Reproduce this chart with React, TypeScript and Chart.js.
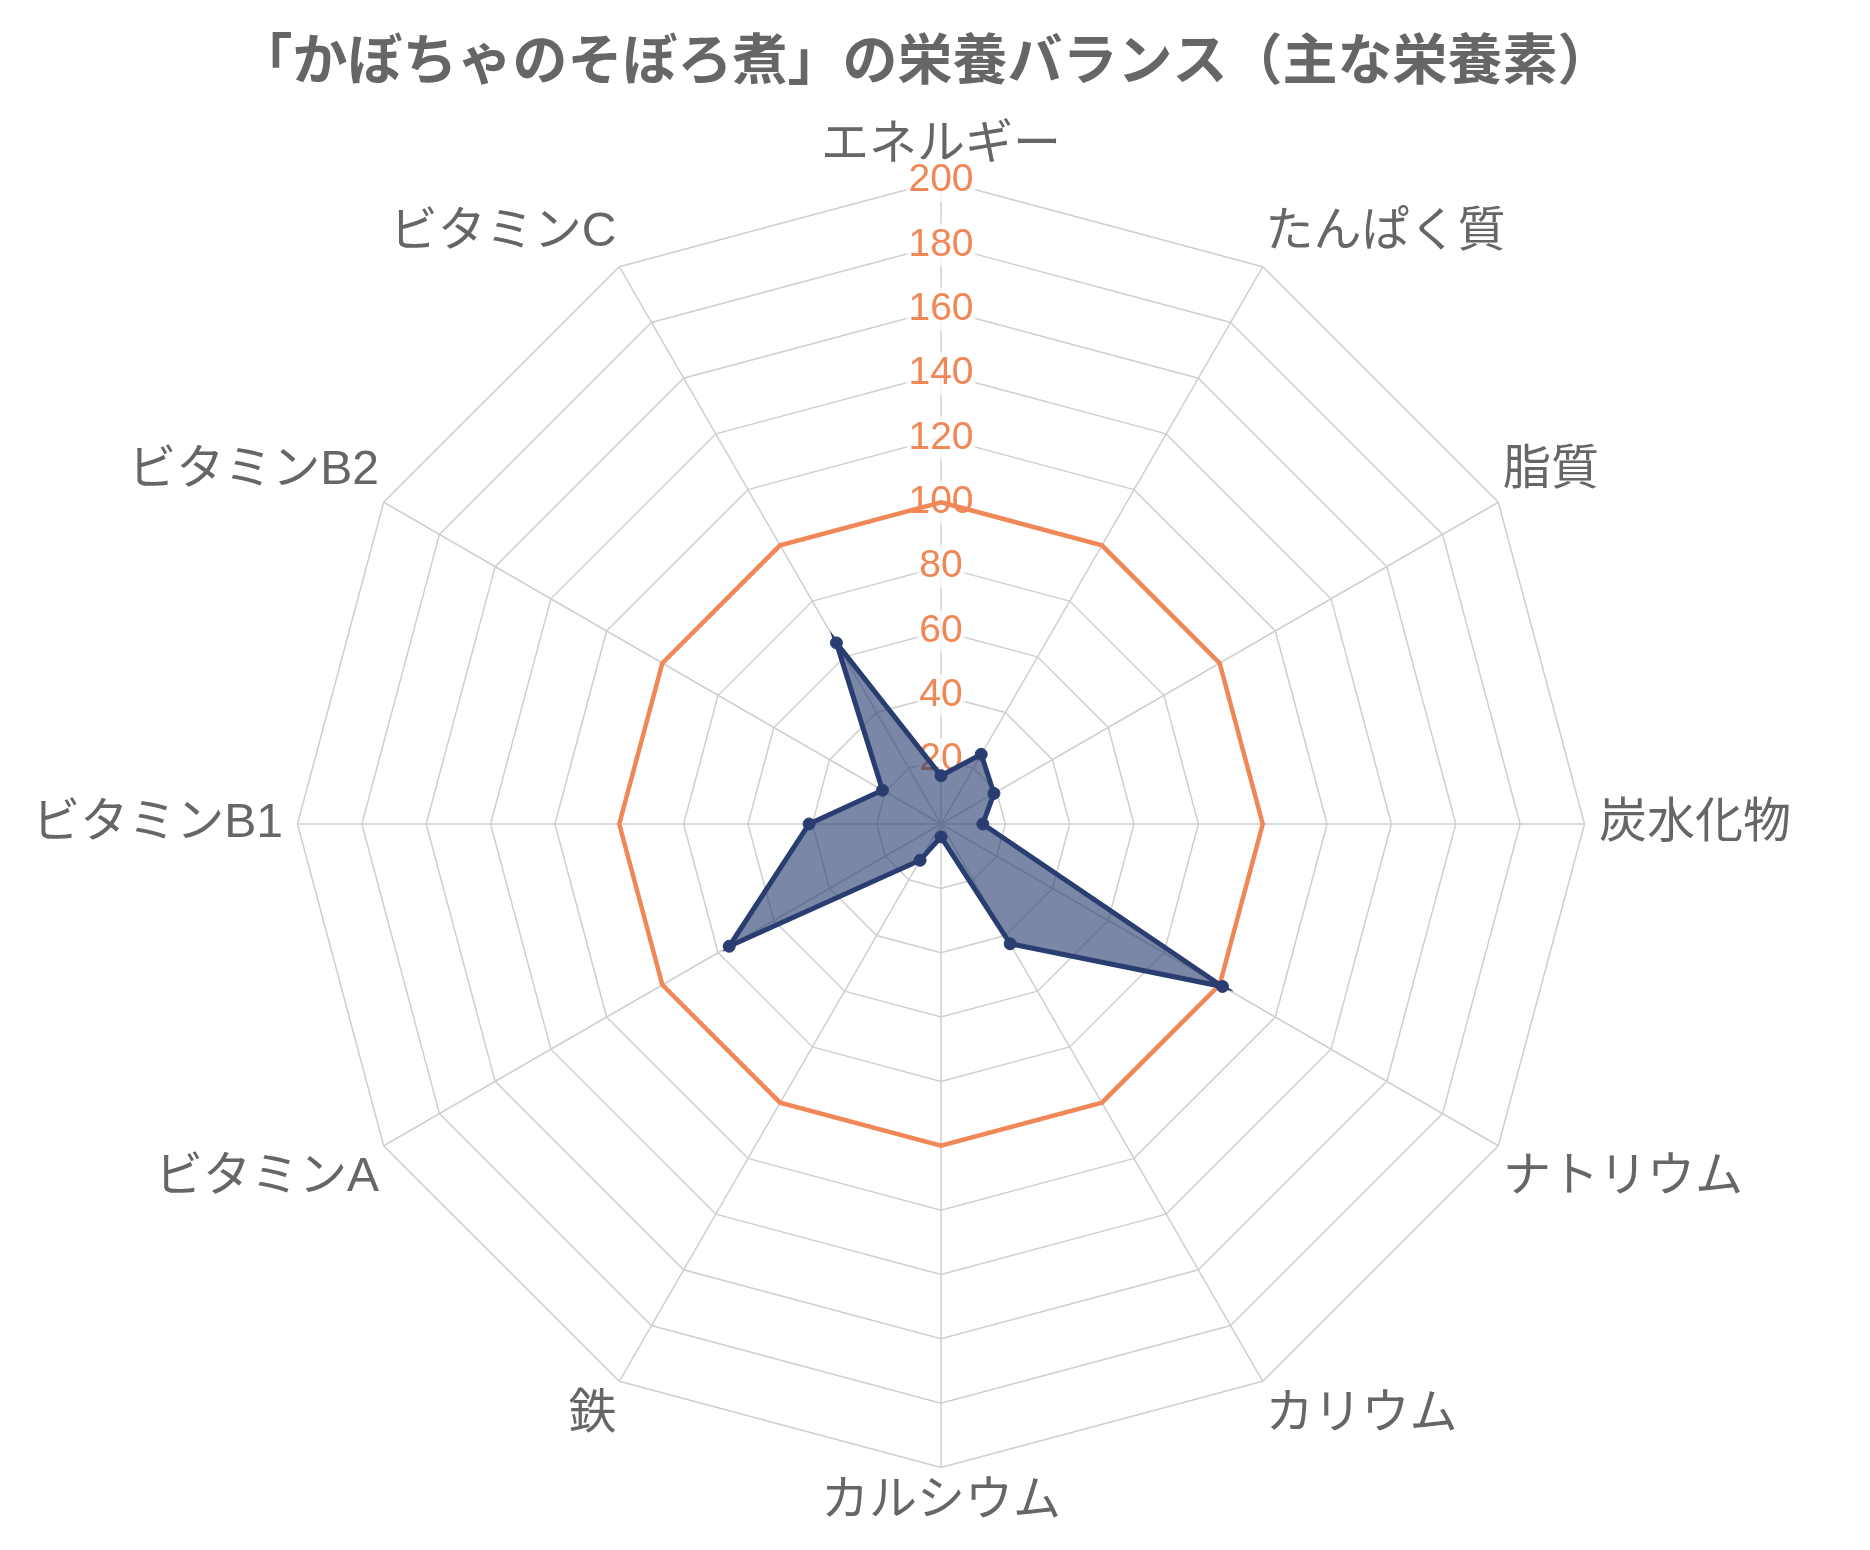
import React, { useEffect, useRef } from "react";
import { Chart, registerables } from "chart.js";

Chart.register(...registerables);

const titleText = "「かぼちゃのそぼろ煮」の栄養バランス（主な栄養素）";
const categories = [
  "エネルギー",
  "たんぱく質",
  "脂質",
  "炭水化物",
  "ナトリウム",
  "カリウム",
  "カルシウム",
  "鉄",
  "ビタミンA",
  "ビタミンB1",
  "ビタミンB2",
  "ビタミンC",
];
const nutrientValues = [15, 25, 19, 13, 101, 43, 4, 13, 76, 41, 21, 65];
const referenceValues = [100, 100, 100, 100, 100, 100, 100, 100, 100, 100, 100, 100];
const scaleMin = 0;
const scaleMax = 200;
const scaleStep = 20;

const NAVY = "rgb(42, 61, 112)";
const NAVY_FILL = "rgba(42, 61, 112, 0.62)";
const ORANGE = "rgb(240, 135, 86)";
const TEXT_GRAY = "#666666";
const GRID = "#cfcfcf";
const FONT = "'Liberation Sans', 'Noto Sans CJK JP'";

export default function App() {
  const canvasRef = useRef<HTMLCanvasElement | null>(null);

  useEffect(() => {
    if (!canvasRef.current) return;
    const chart = new Chart(canvasRef.current, {
      type: "radar",
      data: {
        labels: categories,
        datasets: [
          {
            label: "栄養素",
            data: nutrientValues,
            borderColor: NAVY,
            backgroundColor: NAVY_FILL,
            borderWidth: 5,
            pointRadius: 6,
            pointBorderWidth: 1,
            pointBackgroundColor: NAVY,
            pointBorderColor: NAVY,
            fill: true,
          },
          {
            label: "基準",
            data: referenceValues,
            borderColor: ORANGE,
            backgroundColor: "rgba(0,0,0,0)",
            borderWidth: 4.5,
            pointRadius: 0,
            fill: false,
          },
        ],
      },
      options: {
        animation: false,
        responsive: true,
        maintainAspectRatio: false,
        layout: { padding: { bottom: 11, right: 20 } },
        plugins: {
          legend: { display: false },
          tooltip: { enabled: false },
          title: {
            display: true,
            text: titleText,
            color: TEXT_GRAY,
            font: { family: FONT, size: 55, weight: "bold" },
            padding: { top: 23, bottom: 20.4 },
          },
        },
        scales: {
          r: {
            min: scaleMin,
            max: scaleMax,
            angleLines: { color: GRID, lineWidth: 1.5 },
            grid: { color: GRID, lineWidth: 1.5 },
            ticks: {
              stepSize: scaleStep,
              color: ORANGE,
              font: { family: FONT, size: 39 },
              showLabelBackdrop: true,
              backdropColor: "rgba(255,255,255,0.75)",
              backdropPadding: 2,
            },
            pointLabels: {
              color: TEXT_GRAY,
              font: { family: FONT, size: 48 },
              padding: (ctx: any) => (ctx.index === 3 || ctx.index === 9 ? -7 : -16),
            },
          },
        },
      },
    });
    return () => chart.destroy();
  }, []);

  return (
    <div style={{ width: "100%", height: 1534, position: "relative", background: "#fff" }}>
      <canvas ref={canvasRef} />
    </div>
  );
}
